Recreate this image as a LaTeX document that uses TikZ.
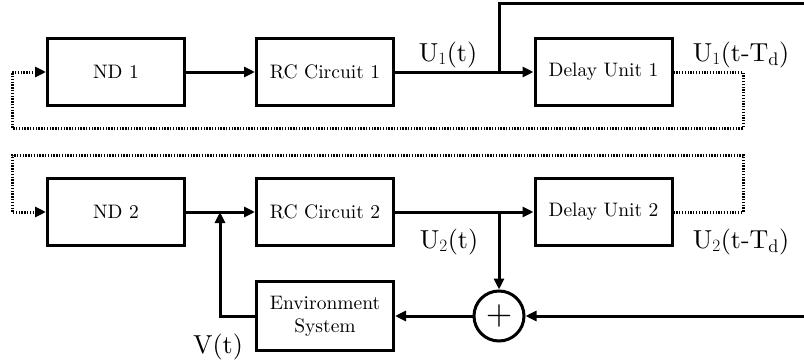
\documentclass[tikz,border=0pt]{standalone}
\usepackage{amsmath}
\usepackage{fontspec}
\setmainfont{lmroman10-regular.otf}
\usepackage{tikz}
\usetikzlibrary{arrows.meta,positioning}

\begin{document}
\begin{tikzpicture}[
          x=1pt, y=-1pt,
          every node/.style={font=\fontsize{19.5}{23}\selectfont},
          box/.style={rectangle, draw, line width=3pt, minimum width=137pt, minimum height=67pt, align=center, inner sep=2pt},
          adder/.style={circle, draw, line width=3pt, minimum size=50pt, inner sep=0pt},
          sig/.style={font=\fontsize{26}{28}\selectfont, anchor=base},
          arrow/.style={-{Triangle[length=11pt,width=10pt]}, line width=3pt},
          wire/.style={line width=3pt},
          dots/.style={line width=3pt, dash pattern=on 1.3pt off 1.5pt}
        ]
          \useasboundingbox (0,0) rectangle (804,364);

          % First unit
          \node[box] (nd1) at (116,72) {ND 1};
          \node[box] (rc1) at (325,72) {RC Circuit 1};
          \node[box] (delay1) at (603.5,72) {Delay Unit 1};
          \coordinate (tap1) at (499,72);

          % Second unit
          \node[box] (nd2) at (116,212) {ND 2};
          \node[box] (rc2) at (325,212) {RC Circuit 2};
          \node[box] (delay2) at (603.5,212) {Delay Unit 2};
          \coordinate (tap2) at (499,212);
          \coordinate (vin) at (220,212);

          % Environment loop
          \node[box, minimum height=69pt] (env) at (325,316) {Environment\\System};
          \node[adder, font=\fontsize{34}{34}\selectfont] (sum) at (499,316) {+};

          % Corner points of the loops
          \coordinate (top1) at (815,3);
          \coordinate (side1) at (815,316);
          \coordinate (ret1) at (743,128);
          \coordinate (in1) at (12,72);
          \coordinate (ret2) at (743,155);
          \coordinate (in2) at (12,212);

          % Forward paths
          \draw[arrow] (nd1) -- (rc1);
          \draw[arrow] (rc1) -- (delay1);
          \draw[arrow] (nd2) -- (rc2);
          \draw[arrow] (rc2) -- (delay2);

          % Cross coupling
          \draw[arrow, dots] (delay1.east) -| (ret1) -| (in1) -- (nd1.west);
          \draw[arrow, dots] (delay2.east) -| (ret2) -| (in2) -- (nd2.west);

          % Feedback through the environment
          \draw[wire] (tap1) |- (top1) -- (side1);
          \draw[arrow] (side1) -- (sum);
          \draw[arrow] (tap2) -- (sum);
          \draw[arrow] (sum) -- (env);
          \draw[arrow] (env.west) -| (vin);

          % Signal labels
          \node[sig] (u1) at (448,61) {U$_1$(t)};
          \node[sig] (u1d) at (741,61) {U$_1$(t-T$_\mathrm{d}$)};
          \node[sig] (u2) at (449,248) {U$_2$(t)};
          \node[sig] (u2d) at (741,248) {U$_2$(t-T$_\mathrm{d}$)};
          \node[sig] (v) at (218,353) {V(t)};

        \end{tikzpicture}
\end{document}
